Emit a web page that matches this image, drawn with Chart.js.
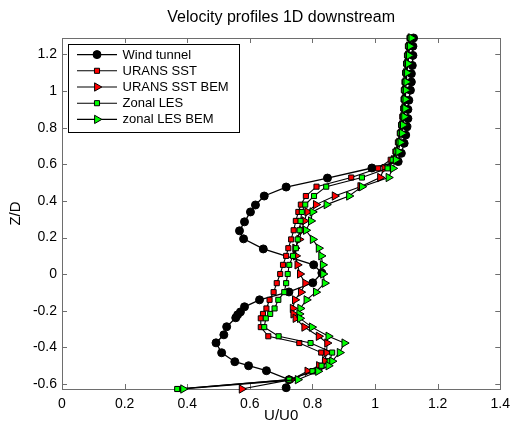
<!DOCTYPE html>
<html><head><meta charset="utf-8">
<script src="https://cdn.jsdelivr.net/npm/chart.js@4.4.0/dist/chart.umd.min.js"></script>
<style>html,body{margin:0;padding:0;background:#fff;}</style>
</head><body>
<canvas id="c" width="517" height="424"></canvas>
<script>
const chartTitle = 'Velocity profiles 1D downstream';
const xLabel = 'U/U0';
const yLabel = 'Z/D';
const xTicks = [0, 0.2, 0.4, 0.6, 0.8, 1, 1.2, 1.4];
const yTicks = [-0.6, -0.4, -0.2, 0, 0.2, 0.4, 0.6, 0.8, 1, 1.2];
const seriesNames = ['Wind tunnel', 'URANS SST', 'URANS SST BEM', 'Zonal LES', 'zonal LES BEM'];

const zWind = [1.29, 1.245, 1.195, 1.14, 1.095, 1.05, 1.005, 0.95, 0.90, 0.85, 0.805, 0.76, 0.715, 0.66, 0.615, 0.58, 0.525, 0.476, 0.427, 0.378, 0.34, 0.286, 0.237, 0.193, 0.138, 0.051, 0.007, -0.047, -0.097, -0.14, -0.178, -0.206, -0.222, -0.238, -0.287, -0.331, -0.375, -0.429, -0.478, -0.50, -0.527, -0.576, -0.62];
const uWind = [1.123, 1.121, 1.121, 1.119, 1.116, 1.116, 1.113, 1.108, 1.105, 1.105, 1.102, 1.098, 1.093, 1.084, 1.074, 0.99, 0.848, 0.716, 0.646, 0.618, 0.602, 0.583, 0.567, 0.58, 0.643, 0.804, 0.83, 0.801, 0.725, 0.631, 0.583, 0.57, 0.561, 0.555, 0.526, 0.517, 0.492, 0.51, 0.552, 0.596, 0.653, 0.725, 0.716];

const zCfd = [1.29, 1.245, 1.195, 1.15, 1.10, 1.05, 1.005, 0.955, 0.905, 0.86, 0.815, 0.77, 0.72, 0.67, 0.625, 0.578, 0.528, 0.478, 0.427, 0.38, 0.34, 0.291, 0.24, 0.19, 0.142, 0.10, 0.051, 0.001, -0.049, -0.098, -0.14, -0.187, -0.217, -0.241, -0.289, -0.339, -0.376, -0.428, -0.475, -0.50, -0.53, -0.576, -0.627];
const uUrans = [1.11, 1.105, 1.102, 1.099, 1.096, 1.094, 1.092, 1.091, 1.09, 1.087, 1.083, 1.079, 1.073, 1.065, 1.05, 1.010, 0.924, 0.813, 0.779, 0.763, 0.755, 0.747, 0.740, 0.732, 0.723, 0.716, 0.706, 0.697, 0.686, 0.676, 0.663, 0.653, 0.642, 0.635, 0.635, 0.659, 0.758, 0.828, 0.84, 0.829, 0.80, 0.73, 0.37];
const uUransBem = [1.113, 1.108, 1.105, 1.102, 1.099, 1.097, 1.095, 1.094, 1.093, 1.09, 1.086, 1.082, 1.077, 1.07, 1.06, 1.03, 1.016, 0.953, 0.871, 0.811, 0.784, 0.774, 0.766, 0.758, 0.745, 0.747, 0.752, 0.760, 0.777, 0.763, 0.744, 0.737, 0.739, 0.746, 0.774, 0.820, 0.847, 0.845, 0.840, 0.821, 0.784, 0.732, 0.574];
const uLes = [1.112, 1.107, 1.104, 1.101, 1.098, 1.096, 1.094, 1.093, 1.092, 1.089, 1.085, 1.081, 1.076, 1.068, 1.056, 1.040, 0.958, 0.844, 0.805, 0.777, 0.766, 0.762, 0.759, 0.753, 0.747, 0.738, 0.726, 0.721, 0.716, 0.710, 0.691, 0.679, 0.665, 0.651, 0.646, 0.692, 0.794, 0.863, 0.855, 0.829, 0.80, 0.726, 0.368];
const uLesBem = [1.116, 1.111, 1.108, 1.105, 1.102, 1.100, 1.098, 1.097, 1.096, 1.093, 1.089, 1.086, 1.081, 1.074, 1.066, 1.057, 1.043, 0.958, 0.917, 0.845, 0.800, 0.795, 0.779, 0.801, 0.820, 0.828, 0.833, 0.834, 0.839, 0.811, 0.781, 0.761, 0.758, 0.760, 0.798, 0.851, 0.902, 0.887, 0.863, 0.851, 0.818, 0.753, 0.387];

const FONT = "'Liberation Sans', Arial, sans-serif";
const pts = (u, z) => u.map((v, i) => ({x: v, y: z[i]}));

const styles = [
  {pointStyle: 'circle', radius: 4, rotation: 0, fill: '#000000'},
  {pointStyle: 'rect', radius: 3.6, rotation: 0, fill: '#ff0000'},
  {pointStyle: 'triangle', radius: 4.8, rotation: 90, fill: '#ff0000'},
  {pointStyle: 'rect', radius: 3.6, rotation: 0, fill: '#00ff00'},
  {pointStyle: 'triangle', radius: 4.8, rotation: 90, fill: '#00ff00'}
];
const seriesData = [pts(uWind, zWind), pts(uUrans, zCfd), pts(uUransBem, zCfd), pts(uLes, zCfd), pts(uLesBem, zCfd)];

const datasets = seriesNames.map((name, i) => ({
  label: name,
  data: seriesData[i],
  showLine: true,
  borderColor: '#000000',
  borderWidth: i === 0 ? 1.3 : 1.1,
  backgroundColor: styles[i].fill,
  pointBackgroundColor: styles[i].fill,
  pointBorderColor: '#000000',
  pointBorderWidth: 1,
  pointStyle: styles[i].pointStyle,
  pointRadius: styles[i].radius,
  pointRotation: styles[i].rotation,
  order: 4 - i,
  clip: false,
  fill: false,
  tension: 0
}));

const framePlugin = {
  id: 'frame',
  beforeDatasetsDraw(chart) {
    const {ctx, chartArea: a, scales} = chart;
    ctx.save();
    ctx.strokeStyle = '#6e6e6e';
    ctx.lineWidth = 1;
    ctx.strokeRect(Math.round(a.left) + 0.5, Math.round(a.top) + 0.5, Math.round(a.right - a.left), Math.round(a.bottom - a.top));
    const tl = 5;
    ctx.beginPath();
    xTicks.forEach(v => {
      const x = Math.round(scales.x.getPixelForValue(v)) + 0.5;
      ctx.moveTo(x, a.bottom); ctx.lineTo(x, a.bottom - tl);
      ctx.moveTo(x, a.top); ctx.lineTo(x, a.top + tl);
    });
    yTicks.forEach(v => {
      const y = Math.round(scales.y.getPixelForValue(v)) + 0.5;
      ctx.moveTo(a.left, y); ctx.lineTo(a.left + tl, y);
      ctx.moveTo(a.right, y); ctx.lineTo(a.right - tl, y);
    });
    ctx.stroke();
    ctx.restore();
  },
  afterDraw(chart) {
    const {ctx, chartArea: a} = chart;
    ctx.save();
    ctx.fillStyle = '#000';
    ctx.textAlign = 'center';
    ctx.textBaseline = 'middle';
    ctx.font = '16px ' + FONT;
    ctx.fillText(chartTitle, (a.left + a.right) / 2, 18);
    ctx.font = '15px ' + FONT;
    ctx.fillText(xLabel, (a.left + a.right) / 2, 416);
    ctx.translate(16, (a.top + a.bottom) / 2);
    ctx.rotate(-Math.PI / 2);
    ctx.fillText(yLabel, 0, 0);
    ctx.restore();

    // legend
    ctx.save();
    const bx = a.left + 6, by = a.top + 6, bw = 171, bh = 88;
    ctx.fillStyle = '#fff';
    ctx.fillRect(bx, by, bw, bh);
    ctx.strokeStyle = '#000';
    ctx.lineWidth = 1;
    ctx.strokeRect(Math.round(bx) + 0.5, Math.round(by) + 0.5, bw, bh);
    ctx.font = '13px ' + FONT;
    ctx.textAlign = 'left';
    ctx.textBaseline = 'middle';
    seriesNames.forEach((name, i) => {
      const y = by + 10.6 + i * 16.2;
      ctx.strokeStyle = '#000';
      ctx.lineWidth = i === 0 ? 1.3 : 1.1;
      ctx.beginPath();
      ctx.moveTo(bx + 9, y); ctx.lineTo(bx + 49, y);
      ctx.stroke();
      ctx.fillStyle = styles[i].fill;
      ctx.strokeStyle = '#000';
      ctx.lineWidth = 1;
      Chart.helpers.drawPoint(ctx, {pointStyle: styles[i].pointStyle, radius: styles[i].radius, rotation: styles[i].rotation, borderWidth: 1}, bx + 29, y);
      ctx.fillStyle = '#000';
      ctx.fillText(name, bx + 54.5, y + 0.5);
    });
    ctx.restore();
  }
};

new Chart(document.getElementById('c'), {
  type: 'scatter',
  data: {datasets},
  options: {
    responsive: false,
    devicePixelRatio: 1,
    animation: false,
    layout: {padding: {top: 38, right: 10, left: 0, bottom: 0}},
    plugins: {legend: {display: false}, title: {display: false}, tooltip: {enabled: false}},
    scales: {
      x: {
        type: 'linear', min: 0, max: 1.4,
        grid: {display: false, drawTicks: false},
        border: {display: false},
        afterBuildTicks: s => { s.ticks = xTicks.map(v => ({value: v})); },
        afterFit: s => { s.height = 35; },
        ticks: {padding: 7, color: '#000', font: {family: FONT, size: 14}, callback: v => String(+v.toFixed(1)), maxRotation: 0, autoSkip: false}
      },
      y: {
        type: 'linear', min: -0.627, max: 1.29,
        grid: {display: false, drawTicks: false},
        border: {display: false},
        afterBuildTicks: s => { s.ticks = yTicks.map(v => ({value: v})); },
        afterFit: s => { s.width = 62; },
        ticks: {padding: 5, color: '#000', font: {family: FONT, size: 14}, callback: v => String(+v.toFixed(1)), autoSkip: false}
      }
    }
  },
  plugins: [framePlugin]
});
</script>
</body></html>
